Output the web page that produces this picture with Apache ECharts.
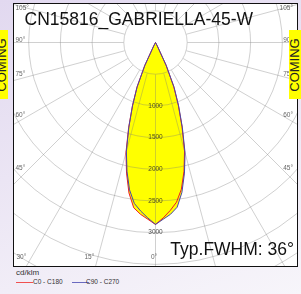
<!DOCTYPE html>
<html>
<head>
<meta charset="utf-8">
<script src="https://cdn.jsdelivr.net/npm/echarts@6/dist/echarts.min.js"></script>
<style>
  html, body { margin: 0; padding: 0; }
  body {
    width: 301px; height: 294px; overflow: hidden; position: relative;
    background: linear-gradient(160deg, #e2d9f0 0%, #ebe5f4 45%, #f7f5fa 100%);
    font-family: "Liberation Sans", Arial, sans-serif;
  }
  #frame {
    position: absolute; left: 13px; top: 3px; width: 283px; height: 262px;
    border: 1.5px solid #111; background: #fff;
  }
  #plot { width: 283px; height: 262px; }
  .coming {
    position: absolute; top: 30px; width: 12px; height: 69px; background: #ffff00;
    overflow: hidden; z-index: 5;
  }
  .coming span {
    position: absolute; left: 50%; top: 50%; transform: translate(-50%, -50%) rotate(-90deg);
    font-size: 13px; color: #222; white-space: nowrap; line-height: 12px;
  }
  #legend { position: absolute; left: 16px; top: 268px; width: 200px; color: #333; }
  #legend .unit { font-size: 8px; line-height: 9px; }
  #legend .row { position: relative; height: 10px; font-size: 6.5px; white-space: nowrap; }
  #legend .row i { position: absolute; top: 5px; width: 17px; height: 1px; }
  #legend .row b { position: absolute; top: 1px; font-weight: normal; white-space: nowrap; }
</style>
</head>
<body>
<div class="coming" style="left:-4px"><span>COMING</span></div>
<div id="frame"><div id="plot"></div></div>
<div class="coming" style="left:289px"><span>COMING</span></div>
<div id="legend">
  <div class="unit">cd/klm</div>
  <div class="row">
    <i style="left:0; background:#f05050"></i><b style="left:17px">C0 - C180</b>
    <i style="left:56px; background:#6a6ac0"></i><b style="left:70px">C90 - C270</b>
  </div>
</div>
<script>
// gamma angles (deg) and intensities (cd/klm)
var angles = [0, 2.5, 5, 7.5, 10, 12.5, 15, 17.5, 20, 22.5, 25, 27.5, 30];
var c0   = [2870, 2770, 2660, 2540, 2350, 2080, 1770, 1390, 1050, 750, 390, 55, 0];
var c180 = [2870, 2790, 2720, 2630, 2410, 2110, 1800, 1410, 1065, 765, 405, 65, 0];
var c90  = [2870, 2790, 2720, 2620, 2400, 2110, 1800, 1410, 1070, 770, 405, 65, 0];
var c270 = [2870, 2770, 2670, 2560, 2360, 2080, 1775, 1395, 1055, 755, 395, 58, 0];

var ringLabels = [1000, 1500, 2000, 2500, 3000];
var leftAngleLabels = ['105°', '90°', '75°', '60°', '45°'];
var rightAngleLabels = ['105°', '90°', '75°', '60°', '45°'];
var bottomAngleLabels = ['30°', '15°', '0°'];
var title = 'CN15816_GABRIELLA-45-W';
var fwhm = 'Typ.FWHM: 36°';

var cx = 141.5, cy = 38.5, rMax = 4500, rPx = 285.3;

// right half uses the first plane, left half the opposite one
function curve(right, left) {
  var pts = [];
  for (var i = angles.length - 1; i >= 0; i--) pts.push([right[i], 360 - angles[i]]);
  for (var j = 0; j < angles.length; j++) pts.push([left[j], angles[j]]);
  return pts;
}
var red = curve(c0, c180);
var blue = curve(c90, c270);

var leftY = [1, 33, 67, 108, 161];
var rightY = [1, 33, 67, 108, 161];
var bottomX = [2.5, 70.5, 137];
var graphics = [];
leftAngleLabels.forEach(function (t, i) {
  graphics.push({ type: 'text', left: 1.5, top: leftY[i], z: 10,
    style: { text: t, fontSize: 6.5, fill: '#666', fontFamily: 'Liberation Sans' } });
});
rightAngleLabels.forEach(function (t, i) {
  graphics.push({ type: 'text', right: 4, top: rightY[i], z: 10,
    style: { text: t, fontSize: 6.5, fill: '#666', fontFamily: 'Liberation Sans' } });
});
bottomAngleLabels.forEach(function (t, i) {
  graphics.push({ type: 'text', left: bottomX[i], top: 250, z: 10,
    style: { text: t, fontSize: 6.5, fill: '#666', fontFamily: 'Liberation Sans' } });
});
graphics.push({ type: 'text', right: 3, top: 237, z: 10,
  style: { text: fwhm, fontSize: 17.5, fill: '#111', fontFamily: 'Liberation Sans' } });

var chart = echarts.init(document.getElementById('plot'), null, { renderer: 'canvas' });
chart.setOption({
  animation: false,
  backgroundColor: '#fff',
  title: {
    text: title, left: 10.5, top: 7, padding: 0,
    textStyle: { fontSize: 17.5, fontWeight: 'normal', color: '#111', fontFamily: 'Liberation Sans' }
  },
  polar: [
    { center: [cx, cy], radius: [0, rPx] },
    { center: [cx, cy], radius: [32, 320] }
  ],
  angleAxis: [
    { polarIndex: 0, type: 'value', min: 0, max: 360, startAngle: 270, clockwise: true,
      axisLine: { show: false }, axisTick: { show: false }, axisLabel: { show: false },
      splitLine: { show: false } },
    { polarIndex: 1, type: 'value', min: 0, max: 360, interval: 15, startAngle: 270, z: 2,
      axisLine: { show: false }, axisTick: { show: false }, axisLabel: { show: false },
      splitLine: { show: true, lineStyle: { color: 'rgba(120,120,120,0.35)', width: 1 } } }
  ],
  radiusAxis: [
    { polarIndex: 0, type: 'value', min: 0, max: rMax, interval: 500, z: 2,
      axisLine: { show: false }, axisTick: { show: false }, axisLabel: { show: false },
      splitLine: { show: true, lineStyle: { color: 'rgba(120,120,120,0.35)', width: 1 } } },
    { polarIndex: 1, type: 'value', min: 0, max: 1, show: false,
      axisLine: { show: false }, axisTick: { show: false }, axisLabel: { show: false },
      splitLine: { show: false } }
  ],
  graphic: graphics,
  series: [
    { type: 'line', coordinateSystem: 'polar', polarIndex: 0, data: red, z: 1,
      symbol: 'none', lineStyle: { width: 0 }, areaStyle: { color: '#ffff00', opacity: 1 } },
    { type: 'line', coordinateSystem: 'polar', polarIndex: 0, data: blue, z: 1,
      symbol: 'none', lineStyle: { width: 0 }, areaStyle: { color: '#ffff00', opacity: 1 } },
    { name: 'C0 - C180', type: 'line', coordinateSystem: 'polar', polarIndex: 0, data: red, z: 3,
      symbol: 'none', lineStyle: { width: 1, color: '#ee1c24' } },
    { name: 'C90 - C270', type: 'line', coordinateSystem: 'polar', polarIndex: 0, data: blue, z: 4,
      symbol: 'none', lineStyle: { width: 1, color: '#4848a8' } },
    { type: 'scatter', coordinateSystem: 'polar', polarIndex: 0, z: 5, symbolSize: 1,
      itemStyle: { color: 'transparent' },
      data: ringLabels.map(function (v) { return [v, 0]; }),
      label: { show: true, position: 'inside', formatter: function (p) { return p.value[0]; },
        fontSize: 6.5, color: '#222', fontFamily: 'Liberation Sans' } }
  ]
});
</script>
</body>
</html>
